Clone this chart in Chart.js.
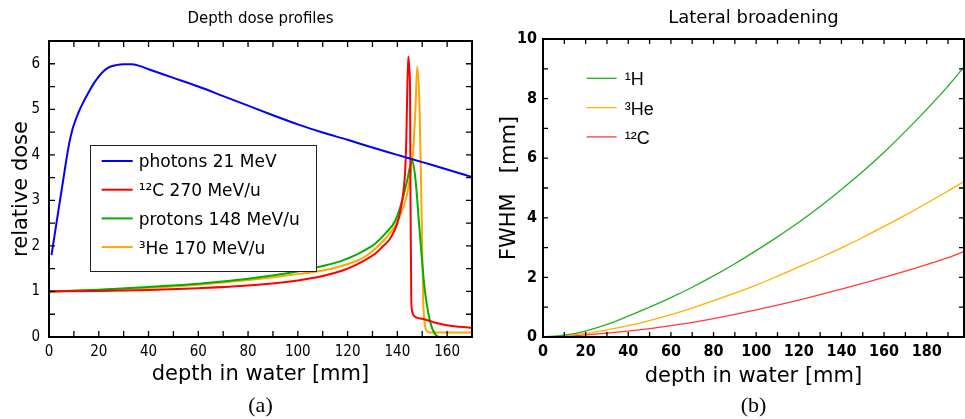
<!DOCTYPE html>
<html>
<head>
<meta charset="utf-8">
<script src="https://cdn.jsdelivr.net/npm/chart.js@4.4.1/dist/chart.umd.min.js"></script>
<style>
html,body{margin:0;padding:0;background:#fff;}
#wrap{position:relative;width:965px;height:419px;overflow:hidden;background:#fff;}
.box{position:absolute;top:0;height:419px;}
#b1{left:0;width:482px;}
#b2{left:482px;width:483px;}
</style>
</head>
<body>
<div id="wrap">
  <div class="box" id="b1"><canvas id="c1"></canvas></div>
  <div class="box" id="b2"><canvas id="c2"></canvas></div>
</div>
<script>
// ---------- (a) Depth dose profiles ----------
const photonDepth = [1, 2, 3, 4, 5, 6, 7, 8, 9, 10, 12, 14, 16, 18, 20, 22, 24, 27, 30, 33, 36, 40, 50, 60, 70, 80, 90, 100, 110, 120, 130, 140, 150, 160, 170];
const photonDose  = [1.8, 2.15, 2.5, 2.85, 3.2, 3.55, 3.9, 4.22, 4.47, 4.66, 4.95, 5.18, 5.38, 5.57, 5.72, 5.84, 5.92, 5.97, 5.99, 5.99, 5.96, 5.88, 5.69, 5.5, 5.29, 5.08, 4.87, 4.67, 4.49, 4.33, 4.16, 4.0, 3.84, 3.68, 3.51];

const carbonDepth = [0, 20, 40, 60, 80, 97, 110, 118, 124, 128, 131.3, 134, 136.7, 138.5, 140, 141, 142, 142.6, 143.1, 143.6, 144, 144.4, 144.8, 145.1, 145.3, 145.6, 146, 146.7, 150, 155, 160, 170];
const carbonDose  = [1.0, 1.01, 1.03, 1.07, 1.13, 1.22, 1.34, 1.46, 1.6, 1.72, 1.84, 1.98, 2.13, 2.3, 2.5, 2.72, 3.01, 3.28, 3.6, 4.33, 5.43, 6.16, 5.9, 5.43, 2.86, 0.81, 0.55, 0.46, 0.4, 0.32, 0.26, 0.2];

const protonDepth = [0, 20, 40, 60, 80, 97, 110, 117, 124, 128, 131.3, 135.3, 139.3, 142, 144, 145, 146, 147.3, 148.7, 150, 151, 152, 153, 154, 155, 156, 157, 170];
const protonDose  = [1.0, 1.04, 1.1, 1.17, 1.28, 1.41, 1.56, 1.66, 1.82, 1.94, 2.06, 2.28, 2.57, 3.01, 3.45, 3.72, 3.87, 3.45, 2.5, 1.62, 1.05, 0.66, 0.38, 0.19, 0.08, 0.02, 0.0, 0.0];

const heliumDepth = [0, 20, 40, 60, 80, 97, 110, 117, 124, 128, 131.3, 135.3, 139.3, 142, 144, 145.3, 146.4, 147.3, 148, 148.9, 149.7, 150.4, 151, 152, 153, 170];
const heliumDose  = [1.0, 1.03, 1.08, 1.15, 1.25, 1.36, 1.46, 1.55, 1.68, 1.8, 1.95, 2.17, 2.46, 2.79, 3.16, 3.6, 4.11, 5.06, 5.94, 5.06, 2.86, 0.81, 0.3, 0.13, 0.1, 0.1];

const doseLabels = ['photons 21 MeV', '\u00B9\u00B2C 270 MeV/u', 'protons 148 MeV/u', '\u00B3He 170 MeV/u'];
const doseXTicks = [0, 20, 40, 60, 80, 100, 120, 140, 160];
const doseYTicks = [0, 1, 2, 3, 4, 5, 6];

// ---------- (b) Lateral broadening ----------
const fwhmDepth  = [0, 10, 20, 30, 40, 50, 60, 70, 80, 90, 100, 110, 120, 130, 140, 150, 160, 170, 180, 190, 197.5];
const fwhmH      = [0, 0.06, 0.2, 0.42, 0.7, 1.0, 1.32, 1.67, 2.05, 2.46, 2.9, 3.36, 3.85, 4.38, 4.95, 5.55, 6.2, 6.9, 7.64, 8.42, 9.06];
const fwhmHe     = [0, 0.04, 0.12, 0.24, 0.38, 0.55, 0.75, 0.97, 1.22, 1.47, 1.74, 2.04, 2.35, 2.66, 2.99, 3.34, 3.71, 4.09, 4.49, 4.9, 5.22];
const fwhmC      = [0, 0.02, 0.07, 0.13, 0.2, 0.28, 0.38, 0.49, 0.62, 0.76, 0.91, 1.07, 1.24, 1.42, 1.61, 1.8, 2.0, 2.21, 2.43, 2.66, 2.87];
const fwhmLabels = ['\u00B9H', '\u00B3He', '\u00B9\u00B2C'];
const fwhmXTicks = [0, 20, 40, 60, 80, 100, 120, 140, 160, 180];
const fwhmYTicks = [0, 2, 4, 6, 8, 10];

const pts = (xs, ys) => xs.map((x, i) => ({x: x, y: ys[i]}));

const TICKFONT = "'Liberation Sans Narrow', 'DejaVu Sans Condensed', 'Liberation Sans', sans-serif";

// inward ticks + frame
const framePlugin = {
  id: 'frame',
  afterDatasetsDraw(chart, args, o) {
    const {ctx, chartArea: a} = chart;
    const x = chart.scales.x, y = chart.scales.y;
    ctx.save();
    ctx.strokeStyle = '#000';
    ctx.lineWidth = o.tickWidth;
    ctx.beginPath();
    for (let i = 0; ; i++) {
      const v = x.min + i * o.xStep;
      if (v > x.max + 1e-9) break;
      const px = x.getPixelForValue(v);
      ctx.moveTo(px, a.bottom); ctx.lineTo(px, a.bottom - o.len);
      ctx.moveTo(px, a.top); ctx.lineTo(px, a.top + o.len);
    }
    for (let i = 0; ; i++) {
      const v = y.min + i * o.yStep;
      if (v > y.max + 1e-9) break;
      const py = y.getPixelForValue(v);
      ctx.moveTo(a.left, py); ctx.lineTo(a.left + o.len, py);
      ctx.moveTo(a.right, py); ctx.lineTo(a.right - o.len, py);
    }
    ctx.stroke();
    ctx.lineWidth = o.borderWidth;
    ctx.strokeRect(a.left, a.top, a.right - a.left, a.bottom - a.top);
    ctx.restore();
  }
};

// in-plot legend
const legendPlugin = {
  id: 'inLegend',
  afterDraw(chart, args, o) {
    const ctx = chart.ctx;
    ctx.save();
    if (o.box) {
      ctx.fillStyle = '#fff';
      ctx.fillRect(o.box[0], o.box[1], o.box[2], o.box[3]);
      ctx.strokeStyle = '#222';
      ctx.lineWidth = 1;
      ctx.strokeRect(o.box[0] + 0.5, o.box[1] + 0.5, o.box[2], o.box[3]);
    }
    ctx.font = o.font;
    ctx.textBaseline = 'middle';
    ctx.textAlign = 'left';
    chart.data.datasets.forEach((ds, i) => {
      const yy = o.y + i * o.row;
      ctx.strokeStyle = ds.borderColor;
      ctx.lineWidth = o.lineWidth;
      ctx.beginPath();
      ctx.moveTo(o.x, yy); ctx.lineTo(o.x + o.len, yy);
      ctx.stroke();
      ctx.fillStyle = '#000';
      ctx.fillText(ds.label, o.x + o.len + o.gap, yy + o.textDy);
    });
    ctx.restore();
  }
};

function keepTicks(list) {
  return function (scale) {
    scale.ticks = list.map(v => ({value: v}));
  };
}

const lineDs = (label, xs, ys, color, w) => ({
  label: label, data: pts(xs, ys), borderColor: color, backgroundColor: color,
  borderWidth: w, pointRadius: 0, fill: false, cubicInterpolationMode: 'monotone'
});

// ---- chart (a)
new Chart(document.getElementById('c1'), {
  type: 'line',
  data: {
    datasets: [
      lineDs(doseLabels[0], photonDepth, photonDose, '#0000ff', 2),
      lineDs(doseLabels[1], carbonDepth, carbonDose, '#ff0000', 2),
      lineDs(doseLabels[2], protonDepth, protonDose, '#00b000', 2),
      lineDs(doseLabels[3], heliumDepth, heliumDose, '#ffa500', 2)
    ]
  },
  options: {
    responsive: true, maintainAspectRatio: false, animation: false,
    layout: {padding: {left: 0, right: 10, top: 0, bottom: 0}},
    scales: {
      x: {
        type: 'linear', min: 0, max: 170,
        afterBuildTicks: keepTicks(doseXTicks),
        afterFit: s => { s.height = 55.6; },
        grid: {display: false, drawTicks: false},
        border: {display: false},
        ticks: {color: '#000', padding: 6, maxRotation: 0, autoSkip: false,
                font: {family: TICKFONT, size: 15}},
        title: {display: true, text: 'depth in water [mm]', color: '#000',
                font: {family: 'DejaVu Sans', size: 21}, padding: {top: 0, bottom: 5}}
      },
      y: {
        type: 'linear', min: 0, max: 6.5,
        afterBuildTicks: keepTicks(doseYTicks),
        afterFit: s => { s.width = 49; },
        grid: {display: false, drawTicks: false},
        border: {display: false},
        ticks: {color: '#000', padding: 9, autoSkip: false,
                font: {family: TICKFONT, size: 15}},
        title: {display: true, text: 'relative dose', color: '#000',
                font: {family: 'DejaVu Sans', size: 21}, padding: {top: 9, bottom: 0}}
      }
    },
    plugins: {
      legend: {display: false},
      tooltip: {enabled: false},
      title: {display: true, text: 'Depth dose profiles', color: '#000', fullSize: false,
              font: {family: 'DejaVu Sans', size: 15, weight: 'normal'}, padding: {top: 10, bottom: 13}},
      subtitle: {display: true, position: 'bottom', text: '(a)', color: '#000', fullSize: false,
                 font: {family: 'Liberation Serif', size: 22, weight: 'normal'}, padding: {top: 0, bottom: 0}},
      frame: {xStep: 10, yStep: 0.5, len: 6, tickWidth: 1.3, borderWidth: 2},
      inLegend: {box: [90, 145, 226, 126], x: 101.7, y: 161, row: 28.7, len: 31, gap: 6,
                 lineWidth: 2, textDy: 2, font: "17px 'DejaVu Sans'"}
    }
  },
  plugins: [framePlugin, legendPlugin]
});

// ---- chart (b)
new Chart(document.getElementById('c2'), {
  type: 'line',
  data: {
    datasets: [
      lineDs(fwhmLabels[0], fwhmDepth, fwhmH, '#22b022', 1.3),
      lineDs(fwhmLabels[1], fwhmDepth, fwhmHe, '#ffb000', 1.3),
      lineDs(fwhmLabels[2], fwhmDepth, fwhmC, '#ff3b3b', 1.3)
    ]
  },
  options: {
    responsive: true, maintainAspectRatio: false, animation: false,
    layout: {padding: {left: 0, right: 1, top: 0, bottom: 0}},
    scales: {
      x: {
        type: 'linear', min: 0, max: 197.5,
        afterBuildTicks: keepTicks(fwhmXTicks),
        afterFit: s => { s.height = 55.6; },
        grid: {display: false, drawTicks: false},
        border: {display: false},
        ticks: {color: '#000', padding: 5, maxRotation: 0, autoSkip: false,
                font: {family: TICKFONT, size: 16, weight: 'bold'}},
        title: {display: true, text: 'depth in water [mm]', color: '#000',
                font: {family: 'DejaVu Sans', size: 21}, padding: {top: 0, bottom: 3}}
      },
      y: {
        type: 'linear', min: 0, max: 10,
        afterBuildTicks: keepTicks(fwhmYTicks),
        afterFit: s => { s.width = 61; },
        grid: {display: false, drawTicks: false},
        border: {display: false},
        ticks: {color: '#000', padding: 6, autoSkip: false,
                font: {family: TICKFONT, size: 16, weight: 'bold'}},
        title: {display: true, text: 'FWHM   [mm]', color: '#000',
                font: {family: 'DejaVu Sans', size: 21}, padding: {top: 15, bottom: 0}}
      }
    },
    plugins: {
      legend: {display: false},
      tooltip: {enabled: false},
      title: {display: true, text: 'Lateral broadening', color: '#000', fullSize: false,
              font: {family: 'DejaVu Sans', size: 18, weight: 'normal'}, padding: {top: 8, bottom: 9.4}},
      subtitle: {display: true, position: 'bottom', text: '(b)', color: '#000', fullSize: false,
                 font: {family: 'Liberation Serif', size: 22, weight: 'normal'}, padding: {top: 0, bottom: 0}},
      frame: {xStep: 10, yStep: 1, len: 5, tickWidth: 1.3, borderWidth: 2},
      inLegend: {box: null, x: 104.7, y: 78.3, row: 29.3, len: 30, gap: 8,
                 lineWidth: 1.3, textDy: 2, font: "18px 'Liberation Sans'"}
    }
  },
  plugins: [framePlugin, legendPlugin]
});
</script>
</body>
</html>
